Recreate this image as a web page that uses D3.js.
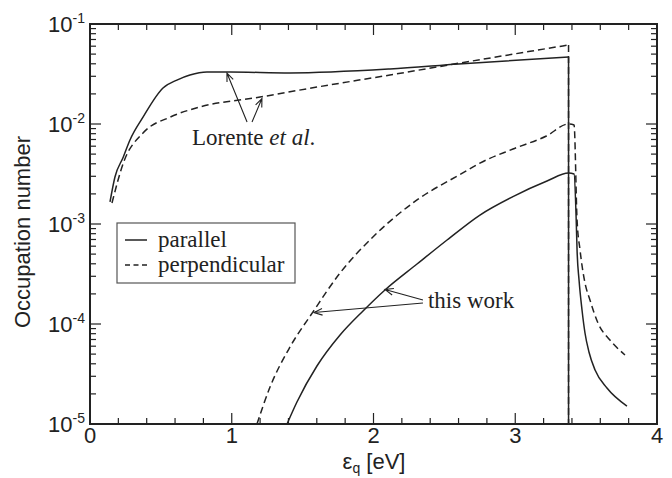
<!DOCTYPE html>
<html><head><meta charset="utf-8">
<script src="https://cdn.jsdelivr.net/npm/d3@7"></script>
<style>body{margin:0;background:#fff}svg{display:block}</style>
</head><body>
<svg id="c" width="672" height="478"></svg>
<script>
// ---- data ----
const xTicks = [0, 1, 2, 3, 4];
const yTickExps = [-1, -2, -3, -4, -5];
const seriesNames = ["parallel", "perpendicular"];

const lorParX = [0.141,0.176,0.235,0.282,0.374,0.515,0.613,0.705,0.825,0.988,1.411,2.116,2.6,3.376];
const lorParY = [1.66e-3,2.95e-3,4.68e-3,6.92e-3,1.17e-2,2.29e-2,2.75e-2,3.09e-2,3.31e-2,3.31e-2,3.24e-2,3.55e-2,3.98e-2,4.68e-2];

const lorPerpX = [0.155,0.235,0.374,0.564,0.776,1.2,1.6,2.116,2.61,3.376];
const lorPerpY = [1.62e-3,4.07e-3,8.13e-3,1.17e-2,1.48e-2,1.86e-2,2.34e-2,3.09e-2,4.07e-2,6.17e-2];

const workParX = [1.39,1.46,1.601,1.764,1.926,2.081,2.307,2.519,2.751,2.984,3.224,3.376,3.415,3.43,3.436,3.45,3.471,3.492,3.52,3.563,3.647,3.788];
const workParY = [1.0e-5,1.66e-5,3.80e-5,7.76e-5,1.35e-4,2.19e-4,3.98e-4,6.92e-4,1.23e-3,1.88e-3,2.69e-3,3.24e-3,3.16e-3,1.10e-3,5.50e-4,2.75e-4,1.38e-4,8.13e-5,5.25e-5,3.47e-5,2.29e-5,1.51e-5];

const workPerpX = [1.178,1.27,1.411,1.573,1.764,1.996,2.307,2.63,2.751,2.984,3.22,3.376,3.415,3.436,3.457,3.492,3.527,3.584,3.668,3.774];
const workPerpY = [1.0e-5,2.34e-5,5.89e-5,1.32e-4,3.24e-4,7.41e-4,1.74e-3,3.24e-3,4.07e-3,5.62e-3,7.59e-3,1.0e-2,9.77e-3,1.10e-3,5.50e-4,2.57e-4,1.74e-4,1.02e-4,6.92e-5,4.90e-5];

// ---- layout ----
const L = 90, R = 657, T = 24, B = 424;
const ink = "#222";
const svg = d3.select("#c");
const x = d3.scaleLinear().domain([0, 4]).range([L, R]);
const y = d3.scaleLog().domain([1e-5, 1e-1]).range([B, T]);

svg.append("defs").append("clipPath").attr("id", "clip")
  .append("rect").attr("x", L).attr("y", T).attr("width", R - L).attr("height", B - T);

const zip = (xs, ys) => xs.map((v, i) => [v, ys[i]]);
const line = d3.line().x(d => x(d[0])).y(d => y(d[1])).curve(d3.curveMonotoneX);
const lineLin = d3.line().x(d => x(d[0])).y(d => y(d[1]));
const plot = svg.append("g").attr("clip-path", "url(#clip)");
const DASH = "7,4";

function drawSeries(xs, ys, dashed, drop) {
  const pts = zip(xs, ys);
  plot.append("path").attr("d", line(pts)).attr("fill", "none")
    .attr("stroke", ink).attr("stroke-width", 1.5)
    .attr("stroke-dasharray", dashed ? DASH : null);
  if (drop) {
    const last = pts[pts.length - 1];
    plot.append("path").attr("d", lineLin([last, [last[0], 1e-5]])).attr("fill", "none")
      .attr("stroke", ink).attr("stroke-width", 1.5)
      .attr("stroke-dasharray", dashed ? DASH : null);
  }
}
drawSeries(lorParX, lorParY, false, true);
drawSeries(lorPerpX, lorPerpY, true, true);
drawSeries(workParX, workParY, false, false);
drawSeries(workPerpX, workPerpY, true, false);

// ---- ticks (inward, on all four sides) ----
const tk = svg.append("g").attr("stroke", ink).attr("stroke-width", 1.2);
d3.range(0, 4.0001, 0.2).forEach(v => {
  const major = Math.abs(v - Math.round(v)) < 1e-6;
  const len = major ? 11 : 6;
  tk.append("line").attr("x1", x(v)).attr("x2", x(v)).attr("y1", B).attr("y2", B - len);
  tk.append("line").attr("x1", x(v)).attr("x2", x(v)).attr("y1", T).attr("y2", T + len);
});
for (let e = -5; e <= -1; e++) {
  for (let m = 1; m <= 9; m++) {
    const v = m * Math.pow(10, e);
    if (v > 0.1 + 1e-12) continue;
    const len = m === 1 ? 11 : 6;
    tk.append("line").attr("x1", L).attr("x2", L + len).attr("y1", y(v)).attr("y2", y(v));
    tk.append("line").attr("x1", R).attr("x2", R - len).attr("y1", y(v)).attr("y2", y(v));
  }
}

// frame
svg.append("rect").attr("x", L).attr("y", T).attr("width", R - L).attr("height", B - T)
  .attr("fill", "none").attr("stroke", ink).attr("stroke-width", 2);

// ---- tick labels ----
const sans = "'Liberation Sans', Arial, sans-serif";
const serif = "'Liberation Serif', 'Times New Roman', serif";
xTicks.forEach(v => {
  svg.append("text").attr("x", x(v)).attr("y", B + 19).attr("text-anchor", "middle")
    .attr("font-family", sans).attr("font-size", 22).attr("fill", ink).text(v);
});
yTickExps.forEach(e => {
  const t = svg.append("text").attr("x", 85).attr("y", y(Math.pow(10, e)) + 8)
    .attr("text-anchor", "end").attr("font-family", sans).attr("font-size", 22).attr("fill", ink);
  t.append("tspan").text("10");
  t.append("tspan").attr("font-size", 14).attr("dy", -9).text(String(e));
});

// axis titles
svg.append("text").attr("transform", "translate(30,232) rotate(-90)").attr("text-anchor", "middle")
  .attr("font-family", sans).attr("font-size", 22).attr("fill", ink).text("Occupation number");
const xt = svg.append("text").attr("x", 374).attr("y", 469).attr("text-anchor", "middle")
  .attr("font-family", sans).attr("font-size", 22).attr("fill", ink);
xt.append("tspan").text("ε");
xt.append("tspan").attr("font-size", 14).attr("dy", 4).text("q");
xt.append("tspan").attr("dy", -4).text(" [eV]");

// ---- annotations ----
function arrow(x0, y0, x1, y1) {
  const p0 = [x(x0), y(y0)], p1 = [x(x1), y(y1)];
  const ang = Math.atan2(p1[1] - p0[1], p1[0] - p0[0]);
  const hl = 9, ha = 0.38;
  const a = [p1[0] - hl * Math.cos(ang - ha), p1[1] - hl * Math.sin(ang - ha)];
  const b = [p1[0] - hl * Math.cos(ang + ha), p1[1] - hl * Math.sin(ang + ha)];
  svg.append("path").attr("d", `M${p0}L${p1}M${a}L${p1}L${b}`)
    .attr("fill", "none").attr("stroke", ink).attr("stroke-width", 1.1);
}
const lt = svg.append("text").attr("x", x(0.72)).attr("y", y(Math.pow(10, -2.21)))
  .attr("font-family", serif).attr("font-size", 23).attr("fill", ink);
lt.append("tspan").text("Lorente ");
lt.append("tspan").attr("font-style", "italic").text("et al");
lt.append("tspan").text(".");
arrow(1.108, Math.pow(10, -1.98), 0.966, Math.pow(10, -1.49));
arrow(1.143, Math.pow(10, -1.98), 1.213, Math.pow(10, -1.745));

svg.append("text").attr("x", x(2.384)).attr("y", y(Math.pow(10, -3.84)))
  .attr("font-family", serif).attr("font-size", 23).attr("fill", ink).text("this work");
arrow(2.349, Math.pow(10, -3.76), 2.081, Math.pow(10, -3.655));
arrow(2.349, Math.pow(10, -3.79), 1.58, Math.pow(10, -3.885));

// ---- legend ----
const lg = svg.append("g");
lg.append("rect").attr("x", 117).attr("y", 223).attr("width", 178).attr("height", 60)
  .attr("fill", "#fff").attr("stroke", "#555").attr("stroke-width", 1.2);
seriesNames.forEach((n, i) => {
  const yy = 240 + i * 25;
  lg.append("line").attr("x1", 125).attr("x2", 147).attr("y1", yy).attr("y2", yy)
    .attr("stroke", ink).attr("stroke-width", 1.5).attr("stroke-dasharray", i ? "5,3.5" : null);
  lg.append("text").attr("x", 158).attr("y", yy + 6.5).attr("font-family", serif)
    .attr("font-size", 23).attr("fill", ink).text(n);
});
</script>
</body></html>
